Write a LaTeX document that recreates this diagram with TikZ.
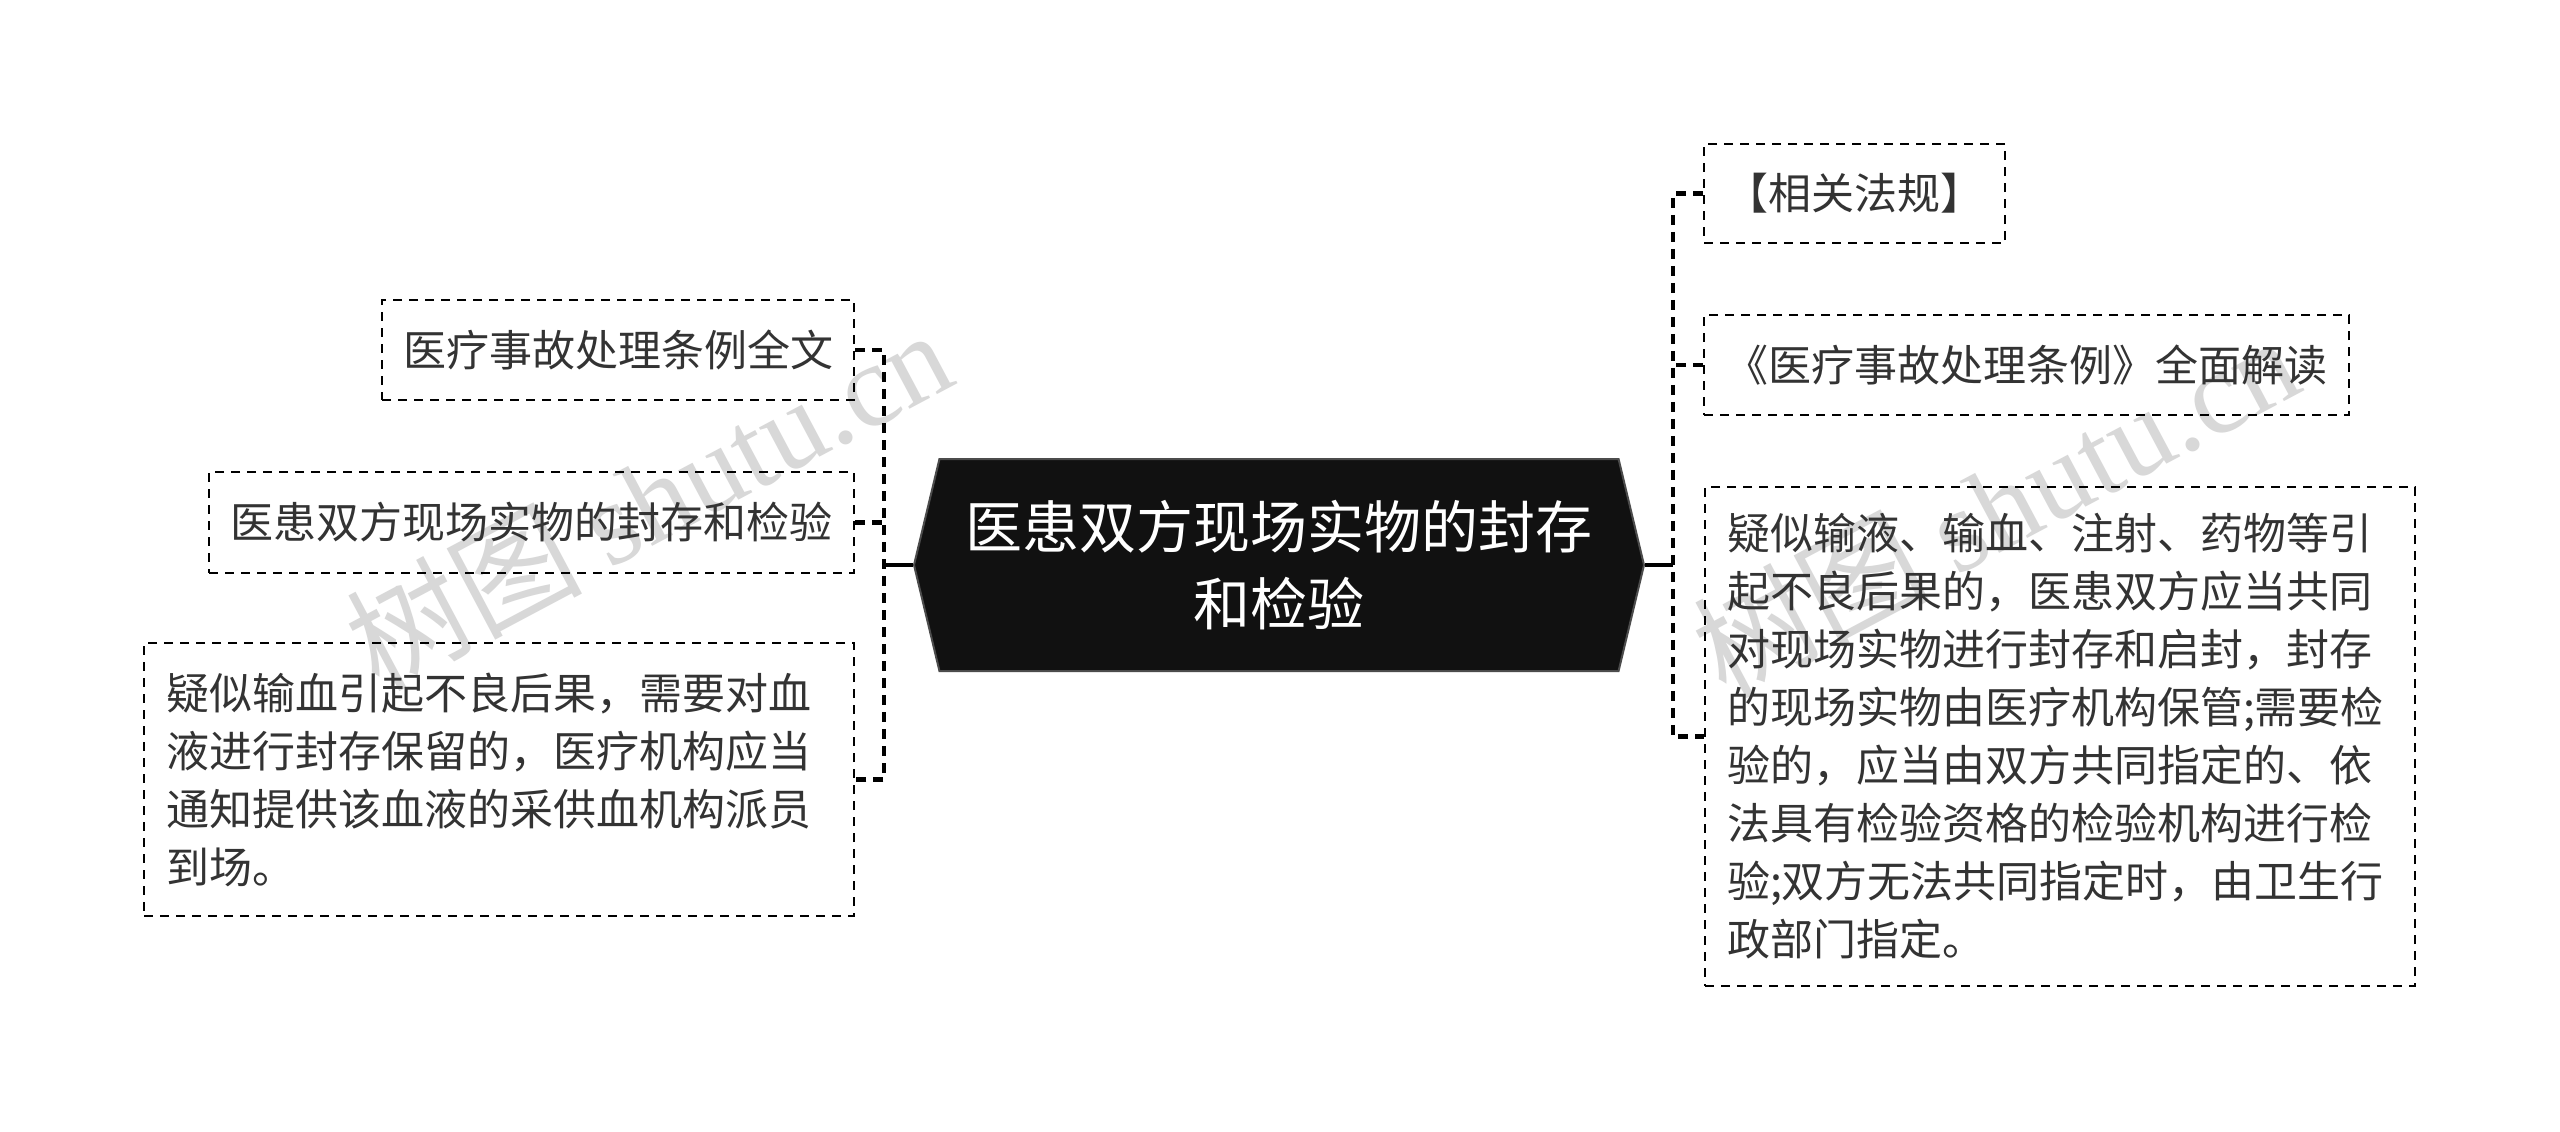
\documentclass[tikz,border=0pt]{standalone}
\usepackage{fontspec}
\setmainfont{Noto Sans CJK SC}
\newfontfamily\wmlatin{Liberation Serif}
\usetikzlibrary{shapes.symbols}
\definecolor{txt}{HTML}{333333}
\definecolor{hexfill}{HTML}{111111}
\definecolor{wm}{HTML}{D8D8D8}
\tikzset{
  x=1pt, y=-1pt,
  leaf/.style={draw=black, line width=2.5pt, dash pattern=on 9pt off 7pt, text=txt,
    font=\fontsize{43}{58}\selectfont, inner sep=0pt},
  leafpara/.style={leaf, align=left, inner xsep=22pt},
  conn/.style={draw=black, line width=4.5pt, dash pattern=on 10pt off 7pt},
  solidconn/.style={draw=black, line width=4.5pt},
  hexnode/.style={signal, signal to=east and west, signal pointer angle=153,
    fill=hexfill, draw=gray!60!black, line width=2pt, text=white, align=center,
    font=\fontsize{57}{77}\selectfont, inner sep=0pt,
    minimum width=730pt, minimum height=212pt},
  watermark/.style={text=wm, font=\fontsize{118}{118}\selectfont, rotate=28, inner sep=0pt}
}
\begin{document}
\begin{tikzpicture}
\useasboundingbox (0,0) rectangle (2560,1132);
\fill[white] (0,0) rectangle (2560,1132);

% watermarks
\node[watermark] (wm1) at (648,498) {树图 {\wmlatin shutu.cn}};
\node[watermark] (wm2) at (1995,505) {树图 {\wmlatin shutu.cn}};

% central node
\node[hexnode] (hex) at (1279,565) {医患双方现场实物的封存\\和检验};

% left children
\node[leaf, minimum width=472pt, minimum height=100pt] (L1) at (618,350) {医疗事故处理条例全文};
\node[leaf, minimum width=645pt, minimum height=101pt] (L2) at (531.5,522.5) {医患双方现场实物的封存和检验};
\node[leafpara, text width=666pt, minimum height=273pt] (L3) at (499,779.5)
  {疑似输血引起不良后果，需要对血\\液进行封存保留的，医疗机构应当\\通知提供该血液的采供血机构派员\\到场。};

% right children
\node[leaf, minimum width=301pt, minimum height=99pt] (R1) at (1854.5,193.5) {【相关法规】};
\node[leaf, minimum width=645pt, minimum height=100pt] (R2) at (2026.5,365) {《医疗事故处理条例》全面解读};
\node[leafpara, text width=666pt, minimum height=499pt] (R3) at (2060,736.5)
  {疑似输液、输血、注射、药物等引\\起不良后果的，医患双方应当共同\\对现场实物进行封存和启封，封存\\的现场实物由医疗机构保管;需要检\\验的，应当由双方共同指定的、依\\法具有检验资格的检验机构进行检\\验;双方无法共同指定时，由卫生行\\政部门指定。};

% buses
\coordinate (lb) at (884,565);
\coordinate (rb) at (1673,565);

\draw[solidconn] (hex.west) -- (lb);
\draw[conn] (L1.east) -- (L1.east -| lb) -- (L3.east -| lb) -- (L3.east);
\draw[conn] (L2.east) -- (L2.east -| lb);

\draw[solidconn] (hex.east) -- (rb);
\draw[conn] (R1.west) -- (R1.west -| rb) -- (R3.west -| rb) -- (R3.west);
\draw[conn] (R2.west) -- (R2.west -| rb);
\end{tikzpicture}
\end{document}
